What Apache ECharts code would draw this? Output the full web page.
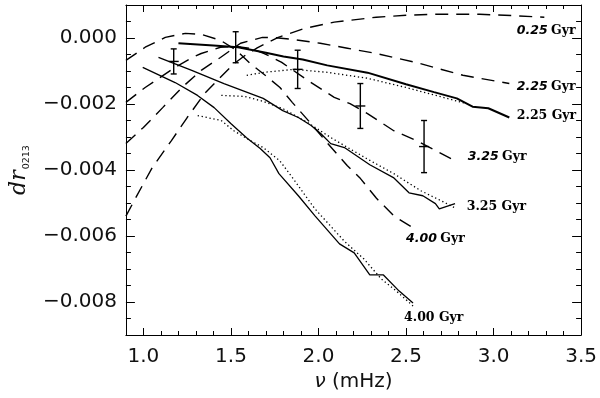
<!DOCTYPE html>
<html>
<head>
<meta charset="utf-8">
<script src="https://cdn.jsdelivr.net/npm/echarts@6/dist/echarts.min.js"></script>
<style>html,body{margin:0;padding:0;background:#fff}#c{width:600px;height:398px}</style>
</head>
<body>
<div id="c"></div>
<script>
// ---- data: [nu (mHz), dr0213] ----
const dash025 = [[0.90,-0.00540],[0.95,-0.00490],[1.05,-0.00393],[1.16,-0.00311],[1.25,-0.00241],[1.35,-0.00168],[1.44,-0.00119],[1.52,-0.00077],[1.58,-0.00053],[1.65,-0.00030],[1.77,0.00002],[1.92,0.00029],[2.09,0.00048],[2.33,0.00063],[2.50,0.00069],[2.67,0.00072],[2.92,0.00072],[3.10,0.00068],[3.29,0.00063]];
const dash225 = [[0.90,-0.00320],[1.00,-0.00271],[1.11,-0.00211],[1.22,-0.00150],[1.33,-0.00098],[1.44,-0.00059],[1.555,-0.00016],[1.68,0.00002],[1.75,0.00001],[1.85,-0.00004],[2.01,-0.00016],[2.165,-0.00031],[2.33,-0.00047],[2.556,-0.00074],[2.825,-0.00113],[3.09,-0.00138]];
const dash325 = [[0.90,-0.00195],[1.01,-0.00150],[1.07,-0.00129],[1.18,-0.00089],[1.28,-0.00059],[1.33,-0.00047],[1.44,-0.00028],[1.52,-0.00025],[1.61,-0.00031],[1.69,-0.00047],[1.79,-0.00074],[1.94,-0.00129],[2.09,-0.00180],[2.18,-0.00199],[2.28,-0.00229],[2.43,-0.00281],[2.56,-0.00311],[2.67,-0.00341],[2.78,-0.00372]];
const dash400 = [[0.90,-0.00068],[1.01,-0.00028],[1.125,0.00002],[1.24,0.00014],[1.33,0.00011],[1.44,-0.00007],[1.53,-0.00037],[1.61,-0.00077],[1.70,-0.00115],[1.78,-0.00150],[1.85,-0.00195],[1.95,-0.00255],[2.05,-0.00318],[2.165,-0.00387],[2.24,-0.00426],[2.33,-0.00485],[2.43,-0.00539],[2.53,-0.00572]];
const solid225 = [[1.20,-0.00016],[1.40,-0.00023],[1.54,-0.00028],[1.70,-0.00045],[1.80,-0.00056],[1.91,-0.00065],[2.05,-0.00083],[2.28,-0.00105],[2.50,-0.00140],[2.66,-0.00164],[2.79,-0.00183],[2.88,-0.00208],[2.97,-0.00213],[3.09,-0.00241]];
const dot225 = [[1.59,-0.00113],[1.69,-0.00104],[1.86,-0.00095],[2.05,-0.00104],[2.28,-0.00122],[2.50,-0.00150],[2.67,-0.00174],[2.84,-0.00198]];
const solid325 = [[1.086,-0.00059],[1.276,-0.00098],[1.46,-0.00138],[1.684,-0.00183],[1.796,-0.00220],[1.885,-0.00241],[1.958,-0.00265],[2.014,-0.00290],[2.07,-0.00320],[2.148,-0.00332],[2.293,-0.00384],[2.428,-0.00423],[2.517,-0.00469],[2.596,-0.00478],[2.668,-0.00502],[2.69,-0.00518],[2.78,-0.00502]];
const dot325 = [[1.445,-0.00174],[1.578,-0.00177],[1.684,-0.00192],[1.80,-0.00215],[1.94,-0.00257],[2.08,-0.00305],[2.277,-0.00366],[2.43,-0.00411],[2.585,-0.00463],[2.70,-0.00493],[2.78,-0.00515]];
const solid400 = [[0.996,-0.00089],[1.181,-0.00135],[1.309,-0.00174],[1.404,-0.00211],[1.499,-0.00259],[1.589,-0.00302],[1.667,-0.00335],[1.723,-0.00363],[1.774,-0.00411],[1.885,-0.00478],[1.98,-0.00539],[2.12,-0.00624],[2.204,-0.00651],[2.293,-0.00718],[2.371,-0.00718],[2.461,-0.00767],[2.54,-0.00803]];
const dot400 = [[1.31,-0.00235],[1.444,-0.00250],[1.516,-0.00281],[1.611,-0.00311],[1.684,-0.00332],[1.779,-0.00372],[1.858,-0.00428],[1.98,-0.00518],[2.148,-0.00616],[2.26,-0.00670],[2.36,-0.00731],[2.445,-0.00767],[2.54,-0.00812]];
// observations with error bars
const obsNu = [1.173, 1.527, 1.881, 2.239, 2.603];
const obsDr = [-0.00071, -0.00028, -0.00095, -0.00206, -0.00329];
const obsErr = [0.00038, 0.00047, 0.00058, 0.00068, 0.00079];
// curve labels
const labelAge = ['0.25', '2.25', '2.25', '3.25', '3.25', '4.00', '4.00'];
const labelItalic = [true, true, false, true, false, true, false];
const labelNu = [3.133, 3.133, 3.133, 2.853, 2.847, 2.500, 2.489];
const labelDr = [0.000234, -0.001468, -0.00235, -0.003596, -0.005116, -0.006088, -0.00849];
// axes
const xMin = 0.9, xMax = 3.5, yMin = -0.009, yMax = 0.001;

const chart = echarts.init(document.getElementById('c'), null, {renderer: 'canvas'});
const black = '#000';
const DASH = [13, 8], DOT = [1.3, 2.7];

function lineSeries(data, type, width) {
  return {type: 'line', data: data, showSymbol: false, symbol: 'none', silent: true,
    lineStyle: {color: black, width: width, type: type}, z: 3};
}
const tickCommon = {inside: true, lineStyle: {color: black, width: 1}};
function xAx(pos) {
  return {type: 'value', position: pos, min: xMin, max: xMax, splitNumber: 5,
    axisLine: {show: true, onZero: false, lineStyle: {color: black, width: 1}},
    axisTick: Object.assign({length: 7}, tickCommon),
    minorTick: {show: true, splitNumber: 5, length: 4, lineStyle: {color: black, width: 1}},
    splitLine: {show: false}, minorSplitLine: {show: false},
    axisLabel: {show: pos === 'bottom', showMinLabel: false, margin: 12, color: '#111',
      fontFamily: 'DejaVu Sans', fontSize: 20, formatter: v => v.toFixed(1)},
    name: pos === 'bottom' ? '{i|ν} (mHz)' : '', nameLocation: 'middle', nameGap: 36,
    nameTextStyle: {color: '#111', fontFamily: 'DejaVu Sans', fontSize: 20,
      rich: {i: {fontFamily: 'DejaVu Sans', fontStyle: 'italic', fontSize: 20, color: '#111'}}}
  };
}
function yAx(pos) {
  return {type: 'value', position: pos, min: yMin, max: yMax, splitNumber: 5,
    axisLine: {show: true, onZero: false, lineStyle: {color: black, width: 1}},
    axisTick: Object.assign({length: 9}, tickCommon),
    minorTick: {show: true, splitNumber: 4, length: 5, lineStyle: {color: black, width: 1}},
    splitLine: {show: false}, minorSplitLine: {show: false},
    axisLabel: {show: pos === 'left', showMinLabel: false, showMaxLabel: false, margin: 9, color: '#111',
      fontFamily: 'DejaVu Sans', fontSize: 20,
      formatter: v => (Math.abs(v) < 1e-12 ? '0.000' : v.toFixed(3).replace('-', '\u2212'))},
    name: pos === 'left' ? '{d|dr}{s|0213}' : '', nameLocation: 'middle', nameRotate: 90, nameGap: 90,
    nameTextStyle: {rich: {
      d: {fontFamily: 'DejaVu Serif', fontStyle: 'italic', fontSize: 22, color: '#111', lineHeight: 26},
      s: {fontFamily: 'DejaVu Sans', fontSize: 9.5, color: '#111', verticalAlign: 'bottom', lineHeight: 26, padding: [0, 0, 0, 1]}
    }}
  };
}

const option = {
  animation: false,
  backgroundColor: '#fff',
  grid: {left: 119, right: 16, top: 5, bottom: 63, containLabel: false},
  xAxis: [xAx('bottom'), xAx('top')],
  yAxis: [yAx('left'), yAx('right')],
  series: [
    lineSeries(dash025, DASH, 1.4),
    lineSeries(dash225, DASH, 1.4),
    lineSeries(dash325, DASH, 1.4),
    lineSeries(dash400, DASH, 1.4),
    lineSeries(solid225, 'solid', 2.0),
    lineSeries(dot225, DOT, 1.3),
    lineSeries(solid325, 'solid', 1.3),
    lineSeries(dot325, DOT, 1.3),
    lineSeries(solid400, 'solid', 1.3),
    lineSeries(dot400, DOT, 1.3),
    {
      type: 'custom', silent: true, z: 5,
      data: obsNu.map((v, i) => [v, obsDr[i], obsErr[i]]),
      renderItem: function (params, api) {
        const x = api.value(0), y = api.value(1), e = api.value(2);
        const c = api.coord([x, y]), t = api.coord([x, y + e]), b = api.coord([x, y - e]);
        const st = {stroke: black, lineWidth: 1.4};
        const cap = 3, cross = 5;
        return {type: 'group', children: [
          {type: 'line', shape: {x1: t[0], y1: t[1], x2: b[0], y2: b[1]}, style: st},
          {type: 'line', shape: {x1: t[0] - cap, y1: t[1], x2: t[0] + cap, y2: t[1]}, style: st},
          {type: 'line', shape: {x1: b[0] - cap, y1: b[1], x2: b[0] + cap, y2: b[1]}, style: st},
          {type: 'line', shape: {x1: c[0] - cross, y1: c[1], x2: c[0] + cross, y2: c[1]}, style: st}
        ]};
      }
    },
    {
      type: 'custom', silent: true, z: 6,
      data: labelNu.map((v, i) => [v, labelDr[i], i]),
      renderItem: function (params, api) {
        const i = api.value(2);
        const p = api.coord([api.value(0), api.value(1)]);
        const txt = labelItalic[i] ? '{i|' + labelAge[i] + '} {n|Gyr}' : '{n|' + labelAge[i] + ' Gyr}';
        return {type: 'text', x: p[0], y: p[1], style: {
          text: txt, align: 'left', verticalAlign: 'middle', fill: black,
          rich: {
            i: {fontFamily: 'DejaVu Sans', fontStyle: 'italic', fontWeight: 'bold', fontSize: 12.5, fill: black},
            n: {fontFamily: 'DejaVu Serif', fontWeight: 'bold', fontSize: 12.5, fill: black}
          }
        }};
      }
    }
  ]
};
chart.setOption(option);
</script>
</body>
</html>
